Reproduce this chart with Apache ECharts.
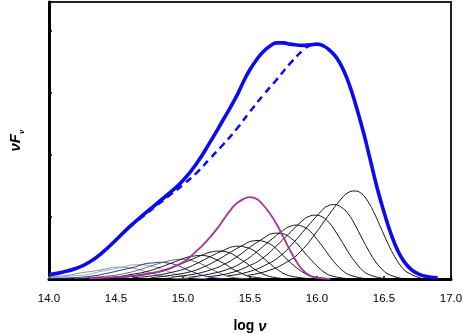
<!DOCTYPE html>
<html lang="en">
<head>
<meta charset="UTF-8">
<title>log nu - nuFnu</title>
<script src="https://cdn.jsdelivr.net/npm/echarts@6/dist/echarts.min.js"></script>
<style>
  html, body { margin: 0; padding: 0; background: #fff; }
  #chart { width: 463px; height: 334px; }
</style>
</head>
<body>
<div id="chart"></div>
<script>
// x axis: log nu, y axis: nuFnu (arbitrary units, no labels)
var xMin = 14.0, xMax = 17.0, xStep = 0.5;
var yMax = 4.47;

// total spectrum (thick blue) and the dashed version
var totalSolid = [[14.0,0.07],[14.1,0.11],[14.2,0.17],[14.3,0.27],[14.4,0.43],[14.5,0.63],[14.6,0.84],[14.7,1.03],[14.8,1.21],[14.9,1.39],[15.0,1.59],[15.1,1.86],[15.2,2.20],[15.3,2.57],[15.4,2.95],[15.45,3.18],[15.5,3.38],[15.55,3.54],[15.6,3.67],[15.65,3.76],[15.7,3.81],[15.75,3.81],[15.8,3.79],[15.9,3.77],[15.95,3.78],[16.0,3.79],[16.05,3.76],[16.1,3.68],[16.15,3.56],[16.2,3.36],[16.25,3.08],[16.3,2.73],[16.35,2.34],[16.4,1.90],[16.45,1.46],[16.5,1.08],[16.55,0.74],[16.6,0.47],[16.65,0.28],[16.7,0.16],[16.75,0.09],[16.8,0.05],[16.9,0.02]];
var totalDashed = [[14.0,0.07],[14.1,0.11],[14.2,0.17],[14.3,0.27],[14.4,0.43],[14.5,0.63],[14.6,0.84],[14.7,1.01],[14.8,1.18],[14.9,1.35],[15.0,1.52],[15.1,1.71],[15.2,1.94],[15.3,2.17],[15.4,2.42],[15.5,2.70],[15.6,2.97],[15.7,3.22],[15.8,3.48],[15.9,3.70],[15.95,3.77],[16.0,3.79]];

// magenta component
var magenta = [[14.3,0.01],[14.5,0.03],[14.65,0.06],[14.8,0.11],[14.9,0.17],[15.0,0.27],[15.05,0.35],[15.1,0.45],[15.15,0.55],[15.2,0.67],[15.25,0.80],[15.3,0.95],[15.35,1.10],[15.4,1.22],[15.45,1.29],[15.5,1.32],[15.55,1.29],[15.6,1.19],[15.65,1.05],[15.7,0.88],[15.75,0.67],[15.8,0.46],[15.85,0.27],[15.9,0.13],[15.95,0.05],[16.0,0.02],[16.1,0.0]];

// thin components, from the highest-frequency one down
var comp1 = [[15.48,0.06],[15.63,0.13],[15.78,0.28],[15.88,0.45],[15.98,0.71],[16.08,1.01],[16.18,1.29],[16.23,1.39],[16.28,1.42],[16.33,1.38],[16.38,1.25],[16.43,1.05],[16.48,0.81],[16.53,0.57],[16.58,0.36],[16.63,0.20],[16.68,0.10],[16.78,0.01]];
var comp2 = [[15.33,0.05],[15.48,0.11],[15.63,0.24],[15.73,0.38],[15.83,0.60],[15.93,0.85],[16.03,1.09],[16.08,1.18],[16.13,1.20],[16.18,1.16],[16.23,1.06],[16.28,0.89],[16.33,0.68],[16.38,0.48],[16.43,0.30],[16.48,0.17],[16.53,0.08],[16.63,0.01]];
var comp3 = [[15.19,0.04],[15.34,0.09],[15.49,0.21],[15.59,0.33],[15.69,0.52],[15.79,0.73],[15.89,0.94],[15.94,1.01],[15.99,1.03],[16.04,1.00],[16.09,0.91],[16.14,0.76],[16.19,0.59],[16.24,0.41],[16.29,0.26],[16.34,0.14],[16.39,0.07],[16.49,0.01]];
var comp4 = [[15.05,0.03],[15.20,0.08],[15.35,0.17],[15.45,0.28],[15.55,0.44],[15.65,0.62],[15.75,0.79],[15.80,0.85],[15.85,0.87],[15.90,0.84],[15.95,0.77],[16.00,0.64],[16.05,0.50],[16.10,0.35],[16.15,0.22],[16.20,0.12],[16.25,0.06],[16.35,0.01]];
var comp5 = [[14.91,0.03],[15.06,0.07],[15.21,0.15],[15.31,0.24],[15.41,0.37],[15.51,0.53],[15.61,0.67],[15.66,0.73],[15.71,0.74],[15.76,0.72],[15.81,0.65],[15.86,0.55],[15.91,0.42],[15.96,0.30],[16.01,0.19],[16.06,0.10],[16.11,0.05],[16.21,0.01]];
var comp6 = [[14.76,0.02],[14.91,0.06],[15.06,0.12],[15.16,0.20],[15.26,0.31],[15.36,0.44],[15.46,0.56],[15.51,0.61],[15.56,0.62],[15.61,0.60],[15.66,0.55],[15.71,0.46],[15.76,0.35],[15.81,0.25],[15.86,0.16],[15.91,0.09],[15.96,0.04],[16.06,0.01]];
var comp7 = [[14.62,0.02],[14.77,0.05],[14.92,0.11],[15.02,0.17],[15.12,0.27],[15.22,0.38],[15.32,0.48],[15.37,0.52],[15.42,0.53],[15.47,0.51],[15.52,0.47],[15.57,0.39],[15.62,0.30],[15.67,0.21],[15.72,0.13],[15.77,0.07],[15.82,0.04],[15.92,0.01]];
var comp8 = [[14.47,0.02],[14.62,0.04],[14.77,0.09],[14.87,0.14],[14.97,0.23],[15.07,0.32],[15.17,0.41],[15.22,0.44],[15.27,0.45],[15.32,0.44],[15.37,0.40],[15.42,0.33],[15.47,0.26],[15.52,0.18],[15.57,0.11],[15.62,0.06],[15.67,0.03],[15.77,0.0]];
var comp9 = [[14.33,0.02],[14.48,0.03],[14.63,0.08],[14.73,0.12],[14.83,0.19],[14.93,0.27],[15.03,0.35],[15.08,0.37],[15.13,0.38],[15.18,0.37],[15.23,0.33],[15.28,0.28],[15.33,0.22],[15.38,0.15],[15.43,0.10],[15.48,0.05],[15.53,0.03],[15.63,0.0]];
var comp10 = [[14.19,0.01],[14.34,0.03],[14.49,0.06],[14.59,0.10],[14.69,0.16],[14.79,0.23],[14.89,0.29],[14.94,0.31],[14.99,0.32],[15.04,0.31],[15.09,0.28],[15.14,0.24],[15.19,0.18],[15.24,0.13],[15.29,0.08],[15.34,0.04],[15.39,0.02],[15.49,0.0]];
var compBlue = [[14.03,0.01],[14.18,0.02],[14.33,0.05],[14.43,0.09],[14.53,0.14],[14.63,0.19],[14.73,0.25],[14.78,0.26],[14.83,0.27],[14.88,0.26],[14.93,0.24],[14.98,0.20],[15.03,0.15],[15.08,0.11],[15.13,0.07],[15.18,0.04],[15.23,0.02],[15.33,0.0]];
var compLight = [[13.88,0.01],[14.03,0.02],[14.18,0.05],[14.28,0.07],[14.38,0.12],[14.48,0.16],[14.58,0.21],[14.63,0.23],[14.68,0.23],[14.73,0.22],[14.78,0.20],[14.83,0.17],[14.88,0.13],[14.93,0.09],[14.98,0.06],[15.03,0.03],[15.08,0.02],[15.18,0.0]];
var compGrey = [[13.74,0.01],[13.89,0.02],[14.04,0.04],[14.14,0.06],[14.24,0.10],[14.34,0.13],[14.44,0.17],[14.49,0.19],[14.54,0.19],[14.59,0.18],[14.64,0.17],[14.69,0.14],[14.74,0.11],[14.79,0.08],[14.84,0.05],[14.89,0.03],[14.94,0.01],[15.04,0.0]];

var thinComps = [
  [compGrey, '#8a8a8a'], [compLight, '#8ea6c6'], [compBlue, '#1c2aa0'],
  [comp10, '#666666'], [comp9, '#111'], [comp8, '#111'], [comp7, '#111'],
  [comp6, '#111'], [comp5, '#111'], [comp4, '#111'], [comp3, '#111'],
  [comp2, '#111'], [comp1, '#111']
];

var font = 'Liberation Sans, Arial, sans-serif';

function line(data, color, width, type, z) {
  return {
    type: 'line', data: data, showSymbol: false, smooth: true,
    z: z, silent: true,
    lineStyle: { color: color, width: width, type: type || 'solid' }
  };
}

var series = [];
for (var i = 0; i < thinComps.length; i++) {
  series.push(line(thinComps[i][0], thinComps[i][1], 1, 'solid', 2));
}
series.push(line(magenta, '#a3349c', 1.8, 'solid', 3));
series.push(line(totalDashed, '#0a0af5', 2.5, [7, 5], 4));
series.push(line(totalSolid, '#0a0af5', 3.6, 'solid', 5));

var chart = echarts.init(document.getElementById('chart'));
chart.setOption({
  backgroundColor: '#fff',
  animation: false,
  grid: { left: 49, right: 12, top: 2, bottom: 55, show: true,
          containLabel: false, outerBoundsMode: 'none',
          borderColor: '#222', borderWidth: 2, backgroundColor: 'transparent' },
  xAxis: {
    type: 'value', min: xMin, max: xMax, interval: xStep,
    name: '{a|log }{b|ν}', nameLocation: 'middle', nameGap: 40,
    nameTextStyle: { rich: {
      a: { fontFamily: font, fontSize: 14, fontWeight: 'bold', color: '#000' },
      b: { fontFamily: font, fontSize: 15, fontWeight: 'bold', fontStyle: 'italic', color: '#000' }
    } },
    axisLine: { onZero: false, lineStyle: { color: '#000', width: 3 } },
    axisTick: { inside: true, length: 3, lineStyle: { color: '#000', width: 1.5 } },
    axisLabel: { color: '#000', fontFamily: font, fontSize: 11.5, margin: 14,
                 formatter: function (v) { return v.toFixed(1); } },
    splitLine: { show: false }
  },
  yAxis: {
    type: 'value', min: 0, max: yMax, interval: 1,
    name: '{a|νF}{b|ν}', nameLocation: 'middle', nameGap: 26,
    nameTextStyle: { rich: {
      a: { fontFamily: font, fontSize: 15, fontWeight: 'bold', fontStyle: 'italic', color: '#000', lineHeight: 18, verticalAlign: 'bottom' },
      b: { fontFamily: font, fontSize: 8, fontWeight: 'bold', fontStyle: 'italic', color: '#000', lineHeight: 18, verticalAlign: 'bottom', padding: [0, 0, -3, 0] }
    } },
    axisLine: { onZero: false, lineStyle: { color: '#000', width: 3 } },
    axisTick: { inside: true, length: 3, lineStyle: { color: '#000', width: 1.5 } },
    axisLabel: { show: false },
    splitLine: { show: false }
  },
  series: series
});
</script>
</body>
</html>
